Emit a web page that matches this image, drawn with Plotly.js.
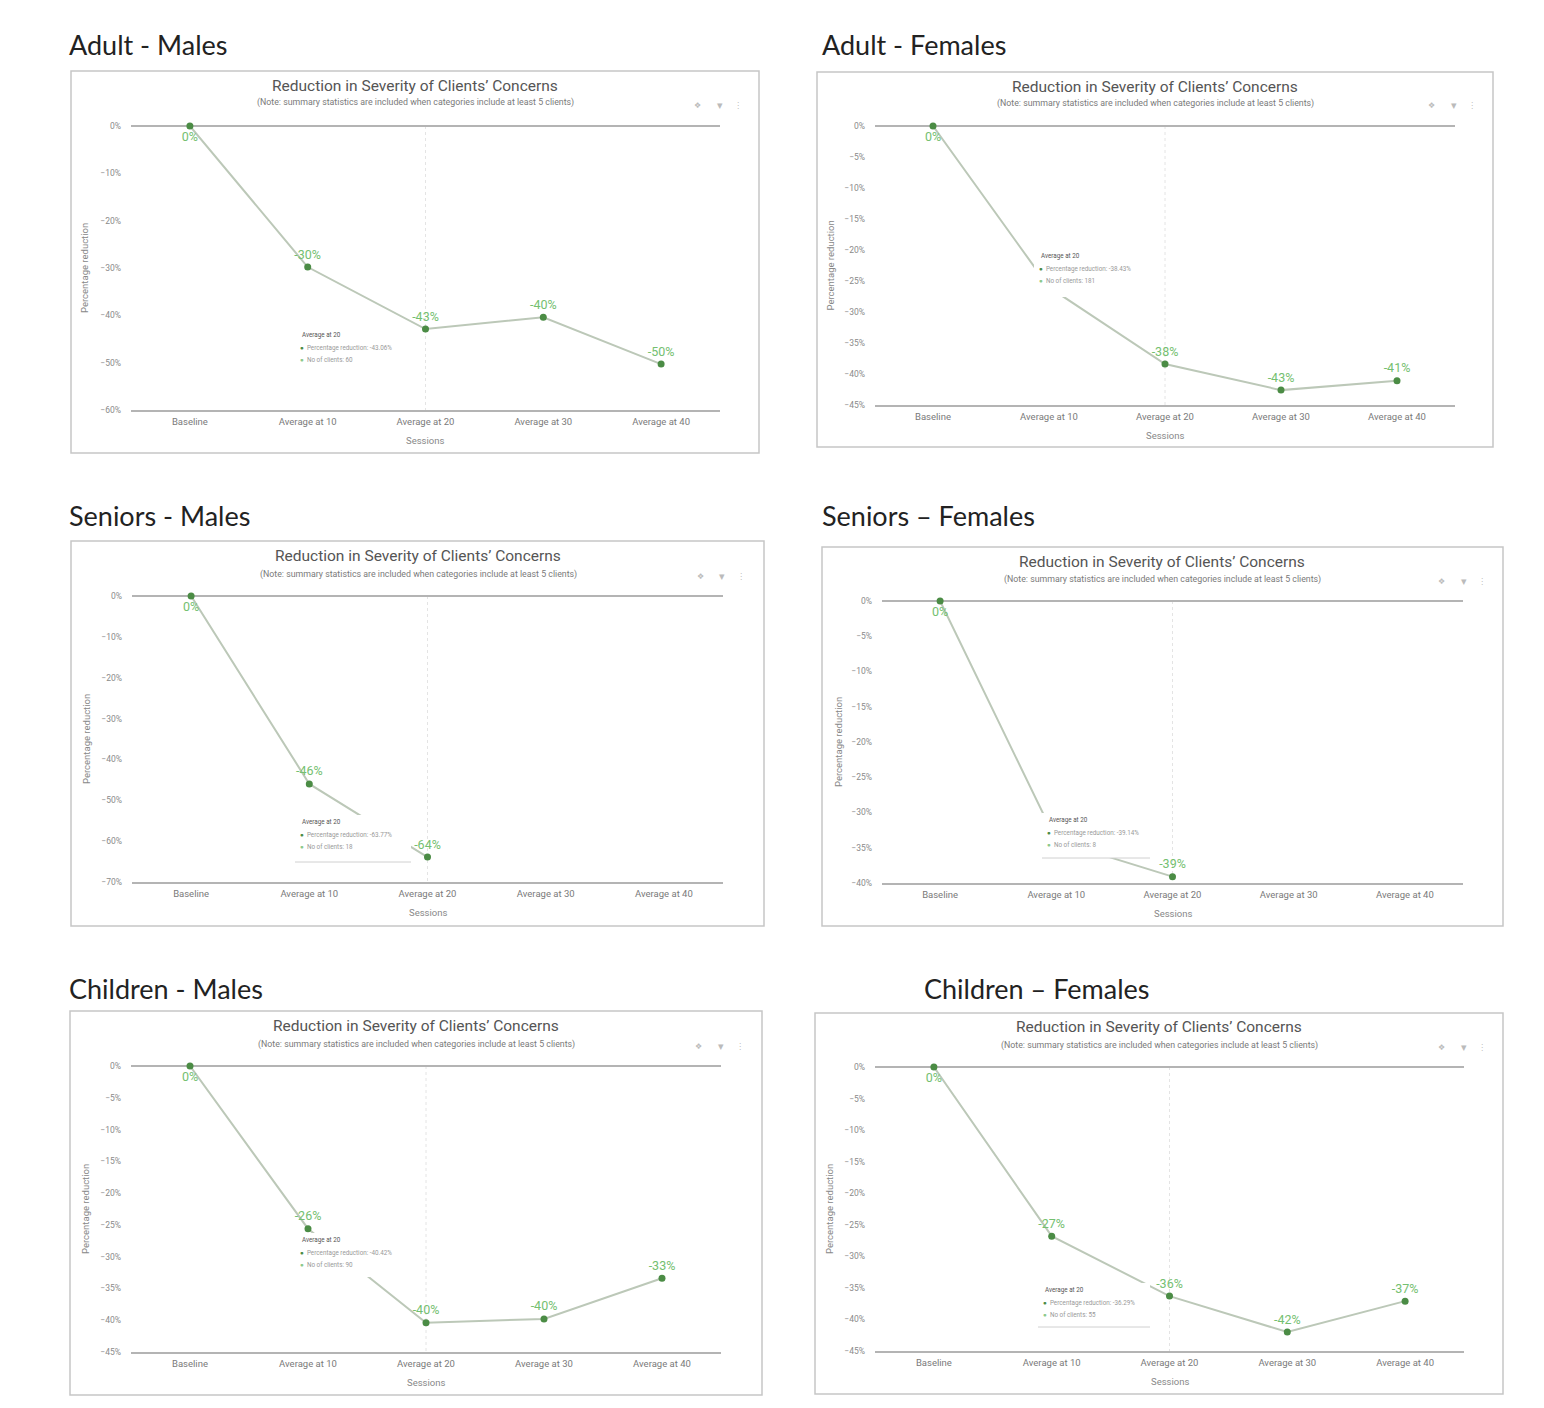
<!DOCTYPE html>
<html>
<head>
<meta charset="utf-8">
<script src="https://cdn.plot.ly/plotly-3.0.1.min.js"></script>
<style>
  html, body { margin: 0; padding: 0; background: #ffffff; }
  #chart { width: 1544px; height: 1408px; }
</style>
</head>
<body>
<div id="chart"></div>
<script>
// ---------------- DATA ----------------
const sessions = ["Baseline", "Average at 10", "Average at 20", "Average at 30", "Average at 40"];

const adultMales       = [0, -29.8, -42.9, -40.4, -50.3];
const adultFemales     = [0, -26.0, -38.4, -42.6, -41.1];
const seniorsMales     = [0, -46.0, -63.9, null, null];
const seniorsFemales   = [0, -34.0, -39.1, null, null];
const childrenMales    = [0, -25.6, -40.4, -39.8, -33.4];
const childrenFemales  = [0, -26.8, -36.3, -42.0, -37.1];

const panelHeaders = ["Adult - Males", "Adult - Females", "Seniors - Males", "Seniors \u2013 Females", "Children - Males", "Children \u2013 Females"];
const tooltipCategory = ["Average at 20", "Average at 20", "Average at 20", "Average at 20", "Average at 20", "Average at 20"];
const tooltipPct = ["-43.06%", "-38.43%", "-63.77%", "-39.14%", "-40.42%", "-36.29%"];
const tooltipClients = ["60", "181", "18", "8", "90", "55"];

const chartTitle = "Reduction in Severity of Clients\u2019 Concerns";
const chartSubtitle = "(Note: summary statistics are included when categories include at least 5 clients)";
const xTitle = "Sessions";
const yTitle = "Percentage reduction";

// ---------------- LAYOUT CONFIG ----------------
const W = 1544, H = 1408;
const px = x => x / W;
const py = y => 1 - y / H;

const series = [adultMales, adultFemales, seniorsMales, seniorsFemales, childrenMales, childrenFemales];
// point labels that the hover box hides in the screenshot
const hiddenLabels = [[], [1], [], [1], [], []];

const panels = [
  {hx: 67,  hy: 44,  box: [71, 71, 759, 453],    plotX: [131, 720],  plotY: [126, 410],   ymin: -60, dtick: 10, titleX: 415,  titleY: 86,   subY: 103,  icons: [697, 720, 738, 105],   yTitleX: 85,  xTitleY: 440,  tip: [295, 328, 412, 368, false]},
  {hx: 820, hy: 44,  box: [817, 72, 1493, 447],  plotX: [875, 1455], plotY: [126, 405],   ymin: -45, dtick: 5,  titleX: 1155, titleY: 87,   subY: 104,  icons: [1431, 1454, 1472, 105], yTitleX: 830, xTitleY: 435,  tip: [1034, 249, 1115, 297, false]},
  {hx: 67,  hy: 515, box: [71, 541, 764, 926],   plotX: [132, 723],  plotY: [596, 882],   ymin: -70, dtick: 10, titleX: 418,  titleY: 556,  subY: 574,  icons: [700, 722, 741, 576],   yTitleX: 86,  xTitleY: 912,  tip: [295, 815, 411, 862, true]},
  {hx: 820, hy: 515, box: [822, 547, 1503, 926], plotX: [882, 1463], plotY: [601, 883],   ymin: -40, dtick: 5,  titleX: 1162, titleY: 562,  subY: 580,  icons: [1441, 1464, 1482, 581], yTitleX: 838, xTitleY: 913,  tip: [1042, 813, 1150, 858, true]},
  {hx: 67,  hy: 988, box: [70, 1011, 762, 1395], plotX: [131, 721],  plotY: [1066, 1352], ymin: -45, dtick: 5,  titleX: 416,  titleY: 1026, subY: 1044, icons: [698, 721, 740, 1046],  yTitleX: 85,  xTitleY: 1382, tip: [295, 1233, 410, 1277, false]},
  {hx: 922, hy: 988, box: [815, 1013, 1503, 1394], plotX: [875, 1464], plotY: [1067, 1351], ymin: -45, dtick: 5, titleX: 1159, titleY: 1027, subY: 1045, icons: [1441, 1464, 1482, 1047], yTitleX: 829, xTitleY: 1381, tip: [1038, 1283, 1150, 1327, true]}
];

const FONT = "Roboto, 'Open Sans', sans-serif";
const HEADER_FONT = "Lato, 'Open Sans', sans-serif";
const LINE_COLOR = "#bcc8b8";
const MARKER_COLOR = "#4b8c45";
const LABEL_COLOR = "#74c070";
const AXIS_COLOR = "#b4b4b4";
const TEXT_GRAY = "#666666";

const traces = [];
const layout = {
  width: W, height: H,
  margin: {l: 0, r: 0, t: 0, b: 0},
  paper_bgcolor: "#ffffff",
  plot_bgcolor: "rgba(0,0,0,0)",
  showlegend: false,
  font: {family: FONT, color: TEXT_GRAY},
  annotations: [],
  shapes: [],
  hovermode: false
};

panels.forEach((p, i) => {
  const n = i + 1;
  const xk = n === 1 ? "xaxis" : "xaxis" + n;
  const yk = n === 1 ? "yaxis" : "yaxis" + n;
  const xr = n === 1 ? "x" : "x" + n;
  const yr = n === 1 ? "y" : "y" + n;
  const vals = series[i];

  layout[xk] = {
    domain: [px(p.plotX[0]), px(p.plotX[1])],
    anchor: yr,
    type: "category",
    range: [-0.5, 4.5],
    showgrid: false,
    zeroline: false,
    showline: true,
    linecolor: AXIS_COLOR,
    linewidth: 1.5,
    ticks: "",
    ticklabelstandoff: 2,
    tickfont: {family: FONT, size: 9.5, color: "#7a7a7a"},
    fixedrange: true
  };
  layout[yk] = {
    domain: [py(p.plotY[1]), py(p.plotY[0])],
    anchor: xr,
    range: [p.ymin, 0],
    dtick: p.dtick,
    tick0: 0,
    ticksuffix: "%",
    showgrid: false,
    zeroline: true,
    zerolinecolor: AXIS_COLOR,
    zerolinewidth: 1.5,
    showline: false,
    ticks: "",
    ticklabelstandoff: 9,
    tickfont: {family: FONT, size: 8.5, color: "#8a8a8a"},
    fixedrange: true
  };

  // spike line at hovered category
  layout.shapes.push({
    type: "line", xref: xr, yref: yr,
    x0: tooltipCategory[i], x1: tooltipCategory[i], y0: 0, y1: p.ymin,
    line: {color: "#e4e4e4", width: 1, dash: "dot"}, layer: "below"
  });

  traces.push({
    type: "scatter",
    mode: "lines+markers+text",
    x: sessions,
    y: vals,
    xaxis: xr, yaxis: yr,
    connectgaps: false,
    cliponaxis: false,
    line: {color: LINE_COLOR, width: 2},
    marker: {color: MARKER_COLOR, size: 7},
    text: vals.map((v, k) => (v === null || hiddenLabels[i].includes(k)) ? "" : Math.round(v) + "%"),
    textposition: vals.map((v, k) => k === 0 ? "bottom center" : "top center"),
    textfont: {family: FONT, size: 12.5, color: LABEL_COLOR},
    hoverinfo: "skip"
  });

  // panel border
  layout.shapes.push({
    type: "rect", xref: "paper", yref: "paper",
    x0: px(p.box[0]), x1: px(p.box[2]), y0: py(p.box[3]), y1: py(p.box[1]),
    line: {color: "#c6c6c6", width: 1.5}, fillcolor: "rgba(0,0,0,0)", layer: "below"
  });

  // tooltip box (covers the line beneath)
  const t = p.tip;
  layout.shapes.push({
    type: "rect", xref: "paper", yref: "paper",
    x0: px(t[0]), x1: px(t[2]), y0: py(t[3]), y1: py(t[1]),
    line: {width: 0}, fillcolor: "#ffffff", layer: "above"
  });
  if (t[4]) {
    layout.shapes.push({
      type: "line", xref: "paper", yref: "paper",
      x0: px(t[0]), x1: px(t[2]), y0: py(t[3]), y1: py(t[3]),
      line: {color: "#d0d0d0", width: 1}, layer: "above"
    });
  }
  const tipLines = [
    tooltipCategory[i],
    '<span style="color:#4b8c45">\u25CF</span>  Percentage reduction: ' + tooltipPct[i],
    '<span style="color:#8cc98a">\u25CF</span>  No of clients: ' + tooltipClients[i]
  ];
  tipLines.forEach((txt, k) => {
    layout.annotations.push({
      xref: "paper", yref: "paper",
      x: px(t[0] + (k === 0 ? 5 : 3)), y: py(t[1] + 7 + k * 12.5),
      xanchor: "left", yanchor: "middle",
      text: txt, showarrow: false,
      font: {family: FONT, size: 6.3, color: k === 0 ? "#555555" : "#999999"}
    });
  });

  // header
  layout.annotations.push({
    xref: "paper", yref: "paper", x: px(p.hx), y: py(p.hy),
    xanchor: "left", yanchor: "middle", showarrow: false,
    text: panelHeaders[i],
    font: {family: HEADER_FONT, size: 27, color: "#222222"}
  });
  // chart title
  layout.annotations.push({
    xref: "paper", yref: "paper", x: px(p.titleX), y: py(p.titleY),
    xanchor: "center", yanchor: "middle", showarrow: false,
    text: chartTitle,
    font: {family: FONT, size: 15.5, color: "#555555"}
  });
  layout.annotations.push({
    xref: "paper", yref: "paper", x: px(p.titleX), y: py(p.subY),
    xanchor: "center", yanchor: "middle", showarrow: false,
    text: chartSubtitle,
    font: {family: FONT, size: 8.8, color: "#7a7a7a"}
  });
  // toolbar icons
  ["\u2756", "\u25BE", "\u22EE"].forEach((g, k) => {
    layout.annotations.push({
      xref: "paper", yref: "paper", x: px(p.icons[k]), y: py(p.icons[3]),
      xanchor: "center", yanchor: "middle", showarrow: false,
      text: g, font: {family: "DejaVu Sans", size: k === 1 ? 11 : 8, color: "#bbbbbb"}
    });
  });
  // axis titles
  layout.annotations.push({
    xref: "paper", yref: "paper", x: px((p.plotX[0] + p.plotX[1]) / 2), y: py(p.xTitleY),
    xanchor: "center", yanchor: "middle", showarrow: false,
    text: xTitle, font: {family: FONT, size: 9.5, color: "#888888"}
  });
  layout.annotations.push({
    xref: "paper", yref: "paper", x: px(p.yTitleX), y: py((p.plotY[0] + p.plotY[1]) / 2),
    xanchor: "center", yanchor: "middle", showarrow: false, textangle: -90,
    text: yTitle, font: {family: FONT, size: 9.5, color: "#888888"}
  });
});

Plotly.newPlot("chart", traces, layout, {displayModeBar: false, staticPlot: true});
</script>
</body>
</html>
